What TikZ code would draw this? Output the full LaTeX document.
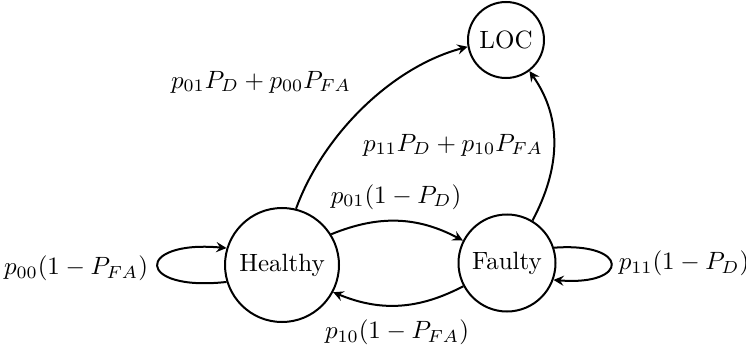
\documentclass[tikz,border=0pt]{standalone}
\usetikzlibrary{arrows}
\begin{document}
\begin{tikzpicture}[x=0.4pt,y=0.4pt,>=stealth,
  state/.style={circle,draw,thick,inner sep=0pt},
  conn/.style={->,thick},
  lbl/.style={inner sep=0pt}]
\useasboundingbox (0,0) rectangle (746,354);
\node[state,minimum size=45.6pt] (h) at (282,89) {Healthy};
\node[state,minimum size=38.8pt] (f) at (507,91) {Faulty};
\node[state,minimum size=30.4pt] (l) at (506,314) {LOC};
\draw[conn] (h.76) to[out=70,in=195,looseness=0.85] (l.190);
\draw[conn] (f.59) to[out=62,in=-55] (l.-53);
\draw[conn] (h.32) to[bend left=25] (f.153);
\draw[conn] (f.208) to[bend left=25] (h.-28);
\draw[conn] (h.197) .. controls (135,62) and (135,114) .. (h.163);
\draw[conn] (f.18) .. controls (630,112) and (630,68) .. (f.-20);
\node[lbl] (t1) at (261,272) {$p_{01}P_D+p_{00}P_{FA}$};
\node[lbl] (t2) at (453,209) {$p_{11}P_D+p_{10}P_{FA}$};
\node[lbl] (t3) at (396,157) {$p_{01}(1-P_D)$};
\node[lbl] (t4) at (397,22) {$p_{10}(1-P_{FA})$};
\node[lbl] (t5) at (76,86) {$p_{00}(1-P_{FA})$};
\node[lbl] (t6) at (684,91) {$p_{11}(1-P_D)$};
\end{tikzpicture}
\end{document}
